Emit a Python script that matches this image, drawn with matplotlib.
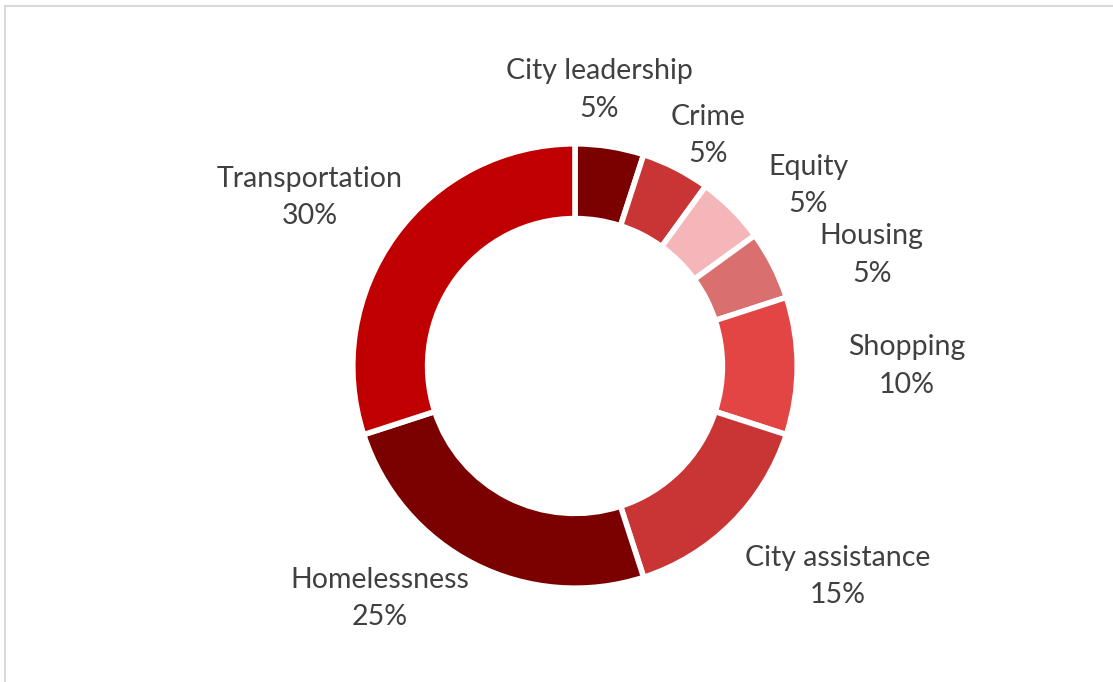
import numpy as np
import matplotlib.pyplot as plt
from matplotlib.lines import Line2D

# --------------------

categories = ["City leadership", "Crime", "Equity", "Housing", "Shopping",
              "City assistance", "Homelessness", "Transportation"]
shares = [5, 5, 5, 5, 10, 15, 25, 30]
colors = ["#7B0000", "#C93535", "#F4B6B8", "#D96F6F", "#E34545",
          "#C93535", "#7B0000", "#C00000"]

# label placement (radius factor, angle in degrees) around the ring
label_r = [1.26, 1.21, 1.34, 1.44, 1.51, 1.53, 1.38, 1.43]
label_ang = [85, 60, 37.7, 20.5, 0, -38.7, -130, 147.6]

# --------------------

plt.rcParams["font.family"] = ["Lato", "DejaVu Sans"]

fig = plt.figure(figsize = (11.13, 6.82), dpi = 100)
ax = fig.add_axes([0, 0, 1, 1])

ax.pie(shares, colors = colors, startangle = 90, counterclock = False,
       radius = 1.01, wedgeprops = dict(width = 0.34, edgecolor = "white", linewidth = 4))

# axes limits chosen so the ring sits where it does in the original
scale = 220
cx, cy = 575, 682 - 366
ax.set_xlim(-cx / scale, (1113 - cx) / scale)
ax.set_ylim(-cy / scale, (682 - cy) / scale)
ax.set_aspect("auto")
ax.axis("off")

for name, val, r, a in zip(categories, shares, label_r, label_ang):
    t = np.deg2rad(a)
    ax.text(r * np.cos(t), r * np.sin(t), f"{name}\n{val}%",
            ha = "center", va = "center", fontsize = 20.5,
            color = "#404040", linespacing = 1.55)

# light frame (top and left edges)
fig.add_artist(Line2D([5 / 1113, 1], [1 - 6 / 682, 1 - 6 / 682],
                      transform = fig.transFigure, color = "#D9D9D9", linewidth = 1.5))
fig.add_artist(Line2D([5 / 1113, 5 / 1113], [0, 1 - 6 / 682],
                      transform = fig.transFigure, color = "#D9D9D9", linewidth = 1.5))

plt.savefig("out.png", dpi = 100)
